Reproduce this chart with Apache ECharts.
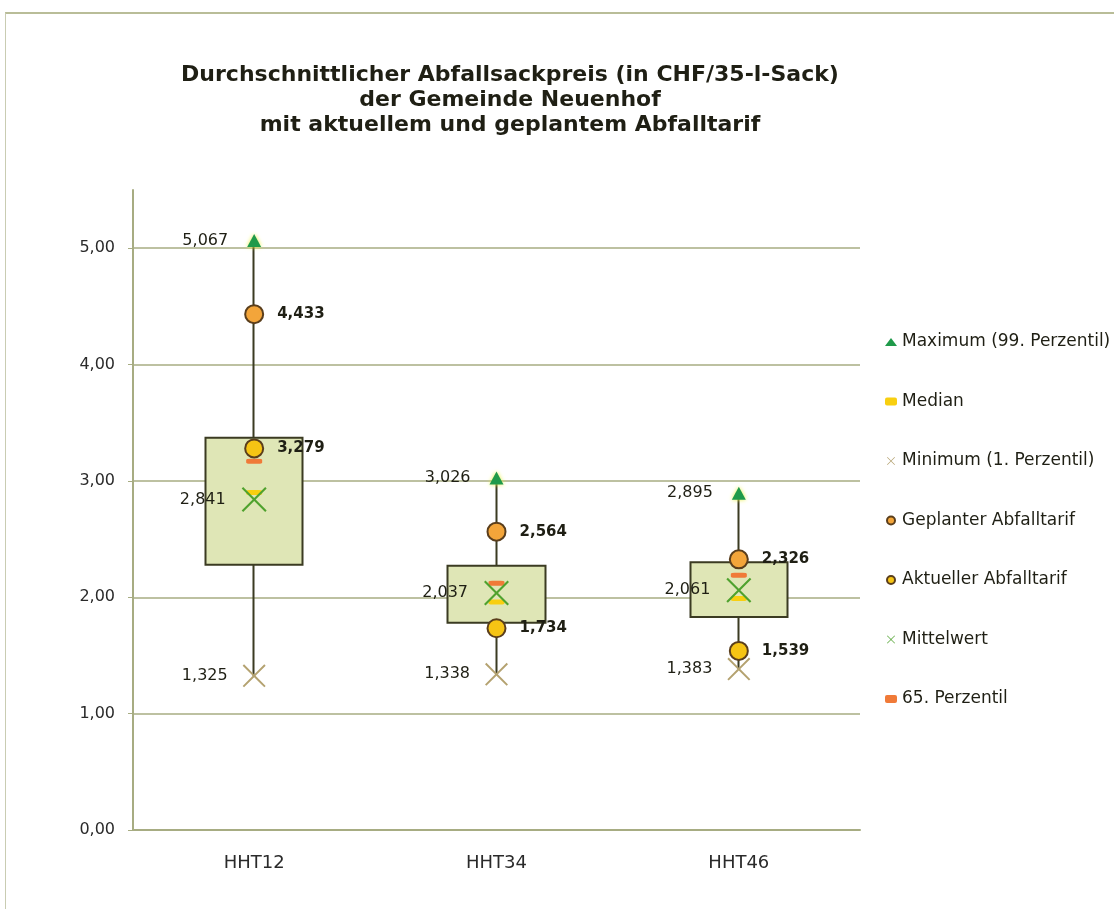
<!DOCTYPE html>
<html lang="de">
<head>
    <meta charset="utf-8">
    <title>Abfallsackpreis Neuenhof</title>
    <script src="https://cdn.jsdelivr.net/npm/echarts@6/dist/echarts.min.js"></script>
    <style>
        html, body { margin: 0; padding: 0; background: #fff; }
        #frame { position: absolute; left: 5px; top: 12px; width: 1120px; height: 920px;
                 border-top: 2px solid #b9bd98; border-left: 1px solid #c9ccb2; }
        #main { position: absolute; left: 0; top: 0; width: 1114px; height: 909px; }
    </style>
</head>
<body>
<div id="frame"></div>
<div id="main"></div>
<script>
    // Werte
    var categories = ['HHT12', 'HHT34', 'HHT46'];
    var maxVals = [5.067, 3.026, 2.895];      // 99. Perzentil
    var minVals = [1.325, 1.338, 1.383];      // 1. Perzentil
    var boxLow = [2.28, 1.78, 1.83];          // unterer Rand der Box
    var boxHigh = [3.37, 2.27, 2.30];         // oberer Rand der Box
    var medianVals = [2.90, 1.96, 1.99];
    var p65Vals = [3.17, 2.12, 2.19];
    var meanVals = [2.841, 2.037, 2.061];
    var geplantVals = [4.433, 2.564, 2.326];
    var aktuellVals = [3.279, 1.734, 1.539];

    var legendNames = ['Maximum (99. Perzentil)', 'Median', 'Minimum (1. Perzentil)',
        'Geplanter Abfalltarif', 'Aktueller Abfalltarif', 'Mittelwert', '65. Perzentil'];

    var FONT = 'DejaVu Sans, Liberation Sans, sans-serif';
    var GRID_COLOR = '#a7ac82';
    var TEXT_COLOR = '#1f1f14';
    // duennes x als Symbol
    var X_PATH = 'path://M0.6,0L5,4.4L9.4,0L10,0.6L5.6,5L10,9.4L9.4,10L5,5.6L0.6,10L0,9.4L4.4,5L0,0.6Z';

    function fmt3(p) { return p.value.toFixed(3).replace('.', ','); }

    function valueLabel(pos, dist, bold) {
        return {
            show: true, position: pos, distance: dist, formatter: fmt3,
            fontFamily: FONT, fontSize: bold ? 15 : 16, fontWeight: bold ? 'bold' : 'normal', color: TEXT_COLOR
        };
    }

    var candleData = categories.map(function (c, i) {
        return [boxLow[i], boxHigh[i], minVals[i], maxVals[i]];
    });

    var myChart = echarts.init(document.getElementById('main'));

    var option = {
        backgroundColor: 'transparent',
        animation: false,
        textStyle: { fontFamily: FONT },
        title: {
            text: 'Durchschnittlicher Abfallsackpreis (in CHF/35-l-Sack)\nder Gemeinde Neuenhof\nmit aktuellem und geplantem Abfalltarif',
            left: 505,
            top: 58,
            textAlign: 'center',
            textStyle: { fontFamily: FONT, fontSize: 22, fontWeight: 'bold', color: TEXT_COLOR, lineHeight: 25 }
        },
        legend: {
            data: legendNames,
            orient: 'vertical',
            left: 880,
            top: 327,
            itemGap: 39.5,
            itemWidth: 12,
            itemHeight: 8,
            textStyle: { fontFamily: FONT, fontSize: 17, color: TEXT_COLOR, lineHeight: 20 }
        },
        grid: { left: 133, right: 254, top: 190, bottom: 79 },
        xAxis: {
            type: 'category',
            data: categories,
            boundaryGap: true,
            axisLine: { lineStyle: { color: GRID_COLOR, width: 2 } },
            axisTick: { show: false },
            axisLabel: { fontFamily: FONT, fontSize: 18, color: '#2a2a2a', margin: 24 }
        },
        yAxis: {
            type: 'value',
            min: 0,
            max: 5.5,
            interval: 1,
            axisLine: { show: true, lineStyle: { color: GRID_COLOR, width: 2 } },
            axisTick: { show: true, length: 5, lineStyle: { color: GRID_COLOR } },
            axisLabel: {
                fontFamily: FONT, fontSize: 16, color: '#2a2a2a', margin: 18, showMaxLabel: false,
                formatter: function (v) { return v.toFixed(2).replace('.', ','); }
            },
            splitLine: { show: true, showMaxLine: false, lineStyle: { color: GRID_COLOR, width: 1.5 } }
        },
        series: [
            {
                name: 'Box',
                type: 'candlestick',
                barWidth: 98,
                data: candleData,
                itemStyle: {
                    color: '#dfe6b6', color0: '#dfe6b6',
                    borderColor: '#3b3b22', borderColor0: '#3b3b22', borderWidth: 2
                },
                z: 1
            },
            {
                name: '65. Perzentil',
                type: 'scatter',
                symbol: 'roundRect',
                symbolSize: [16, 5],
                data: p65Vals,
                itemStyle: { color: '#f07a38', opacity: 1 },
                z: 3
            },
            {
                name: 'Median',
                type: 'scatter',
                symbol: 'roundRect',
                symbolSize: [16, 5],
                data: medianVals,
                itemStyle: { color: '#f8cf10', opacity: 1 },
                z: 3
            },
            {
                name: 'Geplanter Abfalltarif',
                type: 'scatter',
                symbol: 'circle',
                symbolSize: 18,
                data: geplantVals,
                itemStyle: { color: '#f3a53a', borderColor: '#5a3e1c', borderWidth: 2, opacity: 1 },
                label: valueLabel('right', 13, true),
                z: 4
            },
            {
                name: 'Aktueller Abfalltarif',
                type: 'scatter',
                symbol: 'circle',
                symbolSize: 18,
                data: aktuellVals,
                itemStyle: { color: '#f6c414', borderColor: '#5a3e1c', borderWidth: 2, opacity: 1 },
                label: valueLabel('right', 13, true),
                z: 4
            },
            {
                name: 'Minimum (1. Perzentil)',
                type: 'scatter',
                symbol: X_PATH,
                symbolSize: 23,
                data: minVals,
                itemStyle: { color: '#b4a270', opacity: 1 },
                label: valueLabel('left', 15, false),
                z: 5
            },
            {
                name: 'Mittelwert',
                type: 'scatter',
                symbol: X_PATH,
                symbolSize: 25,
                data: meanVals,
                itemStyle: { color: '#4fa22e', opacity: 1 },
                label: valueLabel('left', 16, false),
                z: 5
            },
            {
                name: 'Maximum (99. Perzentil)',
                type: 'scatter',
                symbol: 'triangle',
                symbolSize: [14, 13],
                data: maxVals,
                itemStyle: { color: '#1f9a4a', shadowBlur: 4, shadowColor: '#e8f040', opacity: 1 },
                label: valueLabel('left', 19, false),
                z: 6
            }
        ]
    };

    myChart.setOption(option);
    window.onresize = function () {
        myChart.resize();
    };
</script>
</body>
</html>
